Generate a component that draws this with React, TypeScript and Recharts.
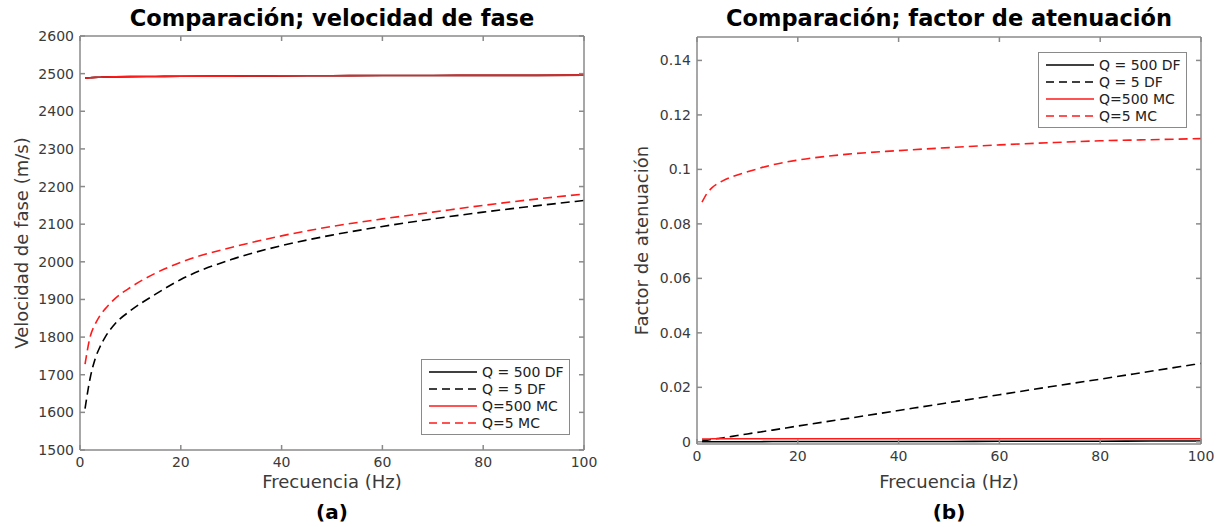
import React from 'react';
import { LineChart, Line, XAxis, YAxis } from 'recharts';

// frecuencias (Hz) comunes a todas las curvas
const freq = [1, 2, 3, 4, 5, 7, 10, 15, 20, 30, 40, 50, 60, 70, 80, 90, 100];

// velocidad de fase (m/s)
const velQ500DF = [2488, 2489, 2490, 2490.5, 2491, 2491.5, 2492, 2492.5, 2493, 2493.5, 2494, 2494.5, 2495, 2495, 2495.5, 2495.5, 2496];
const velQ5DF = [1610, 1690, 1742, 1775, 1800, 1836, 1870, 1914, 1953, 2006, 2043, 2071, 2094, 2114, 2132, 2148, 2163];
const velQ500MC = [2488, 2489, 2490, 2490.5, 2491, 2491.5, 2492, 2492.5, 2493, 2493.5, 2494, 2494.5, 2495, 2495, 2495.5, 2495.5, 2496];
const velQ5MC = [1728, 1800, 1834, 1858, 1875, 1903, 1932, 1970, 1999, 2038, 2069, 2094, 2114, 2132, 2150, 2166, 2180];

// factor de atenuacion
const atenQ500DF = [0.0000, 0.0000, 0.0000, 0.0000, 0.0000, 0.0000, 0.0000, 0.0001, 0.0001, 0.0001, 0.0001, 0.0001, 0.0002, 0.0002, 0.0002, 0.0003, 0.0003];
const atenQ5DF = [0.0003, 0.0006, 0.0009, 0.0012, 0.0014, 0.0020, 0.0029, 0.0043, 0.0058, 0.0086, 0.0115, 0.0144, 0.0173, 0.0202, 0.0230, 0.0259, 0.0288];
const atenQ500MC = [0.0010, 0.0010, 0.0011, 0.0011, 0.0011, 0.0011, 0.0011, 0.0011, 0.0011, 0.0011, 0.0011, 0.0011, 0.0011, 0.0011, 0.0011, 0.0011, 0.0011];
const atenQ5MC = [0.0880, 0.0912, 0.0933, 0.0947, 0.0957, 0.0973, 0.0991, 0.1017, 0.1034, 0.1056, 0.1069, 0.1080, 0.1090, 0.1098, 0.1105, 0.1109, 0.1113];

const xTicks = [0, 20, 40, 60, 80, 100];
const velTicks = [1500, 1600, 1700, 1800, 1900, 2000, 2100, 2200, 2300, 2400, 2500, 2600];
const atenTicks = [0, 0.02, 0.04, 0.06, 0.08, 0.1, 0.12, 0.14];

const seriesNames = ['Q = 500 DF', 'Q = 5 DF', 'Q=500 MC', 'Q=5 MC'];
const seriesColors = ['#000000', '#000000', '#ff1a1a', '#ff1a1a'];
const seriesDash = [undefined, '9 5', undefined, '9 5'];

const velData = freq.map((f, i) => ({ f, a: velQ500DF[i], b: velQ5DF[i], c: velQ500MC[i], d: velQ5MC[i] }));
const atenData = freq.map((f, i) => ({ f, a: atenQ500DF[i], b: atenQ5DF[i], c: atenQ500MC[i], d: atenQ5MC[i] }));

const FONT = '"DejaVu Sans", Verdana, sans-serif';
const AXIS = '#8a8a8a';
const TEXT = '#3a3a3a';
const tickStyle = { fill: TEXT, fontSize: 14, fontFamily: FONT };
const noTick = () => <g />;

const Legend = ({ left, top }: { left: number; top: number }) => (
  <div
    style={{
      position: 'absolute', left, top, width: 149, height: 76,
      background: '#fff', border: `1.5px solid ${AXIS}`, boxSizing: 'border-box',
      fontFamily: FONT, fontSize: 14, color: '#222',
    }}
  >
    {seriesNames.map((name, i) => (
      <div key={name} style={{ position: 'absolute', left: 7, top: 3 + i * 17, height: 17, display: 'flex', alignItems: 'center' }}>
        <svg width={50} height={10}>
          <line x1={0} y1={5} x2={48} y2={5} stroke={seriesColors[i]} strokeWidth={1.5} strokeDasharray={seriesDash[i] ? '8 5' : undefined} />
        </svg>
        <span style={{ marginLeft: 3, whiteSpace: 'pre' }}>{name}</span>
      </div>
    ))}
  </div>
);

const Panel = (props: {
  left: number; width: number; margin: any; data: any[]; yDomain: number[]; yTicks: number[];
  title: string; ylabel: string; ylabelX: number; tag: string;
}) => {
  const { left, width, margin, data, yDomain, yTicks, title, ylabel, ylabelX, tag } = props;
  const plotL = margin.left + 60;
  const plotR = width - margin.right - 1;
  const plotT = margin.top + 1;
  const plotB = 527 - margin.bottom - 30;
  const cx = (plotL + plotR) / 2;
  const cy = (plotT + plotB) / 2;
  return (
    <div style={{ position: 'absolute', left, top: 0, width, height: 527 }}>
      <LineChart width={width} height={527} data={data} margin={margin}>
        <XAxis xAxisId="b" dataKey="f" type="number" domain={[0, 100]} ticks={xTicks} height={30}
          stroke={AXIS} strokeWidth={1.5} tickSize={-5} tickMargin={12} tick={tickStyle} allowDataOverflow />
        <XAxis xAxisId="t" dataKey="f" type="number" orientation="top" domain={[0, 100]} ticks={xTicks} height={1}
          stroke={AXIS} strokeWidth={1.5} tickSize={-5} tick={noTick} allowDataOverflow />
        <YAxis yAxisId="l" type="number" domain={yDomain} ticks={yTicks} width={60}
          stroke={AXIS} strokeWidth={1.5} tickSize={-5} tickMargin={11} tick={tickStyle} allowDataOverflow />
        <YAxis yAxisId="r" type="number" orientation="right" domain={yDomain} ticks={yTicks} width={1}
          stroke={AXIS} strokeWidth={1.5} tickSize={-5} tick={noTick} allowDataOverflow />
        {['a', 'b', 'c', 'd'].map((k, i) => (
          <Line key={k} xAxisId="b" yAxisId="l" type="monotone" dataKey={k} stroke={seriesColors[i]}
            strokeWidth={1.6} strokeDasharray={seriesDash[i]} dot={false} isAnimationActive={false} />
        ))}
      </LineChart>
      <svg width={width} height={527} style={{ position: 'absolute', left: 0, top: 0, pointerEvents: 'none' }}>
        <text x={cx} y={26} textAnchor="middle" fontFamily={FONT} fontWeight="bold" fontSize={22.5} fill="#000">{title}</text>
        <text x={cx} y={488} textAnchor="middle" fontFamily={FONT} fontSize={18} fill={TEXT}>Frecuencia (Hz)</text>
        <text transform={`translate(${ylabelX},${cy}) rotate(-90)`} textAnchor="middle" fontFamily={FONT} fontSize={18} fill={TEXT}>{ylabel}</text>
        <text x={cx} y={519} textAnchor="middle" fontFamily={FONT} fontWeight="bold" fontSize={20} fill="#000">{tag}</text>
      </svg>
    </div>
  );
};

export default function App() {
  return (
    <div style={{ position: 'absolute', left: 0, top: 0, width: 1225, height: 527, background: '#fff', overflow: 'hidden' }}>
      <Panel left={0} width={620} margin={{ top: 35, right: 35, bottom: 47, left: 20 }} data={velData}
        yDomain={[1500, 2600]} yTicks={velTicks} title="Comparación; velocidad de fase"
        ylabel="Velocidad de fase (m/s)" ylabelX={28} tag="(a)" />
      <Panel left={620} width={605} margin={{ top: 36, right: 23, bottom: 53, left: 17 }} data={atenData}
        yDomain={[-0.0008, 0.1486]} yTicks={atenTicks} title="Comparación; factor de atenuación"
        ylabel="Factor de atenuación" ylabelX={28} tag="(b)" />
      <Legend left={421} top={359} />
      <Legend left={1038} top={52} />
    </div>
  );
}
